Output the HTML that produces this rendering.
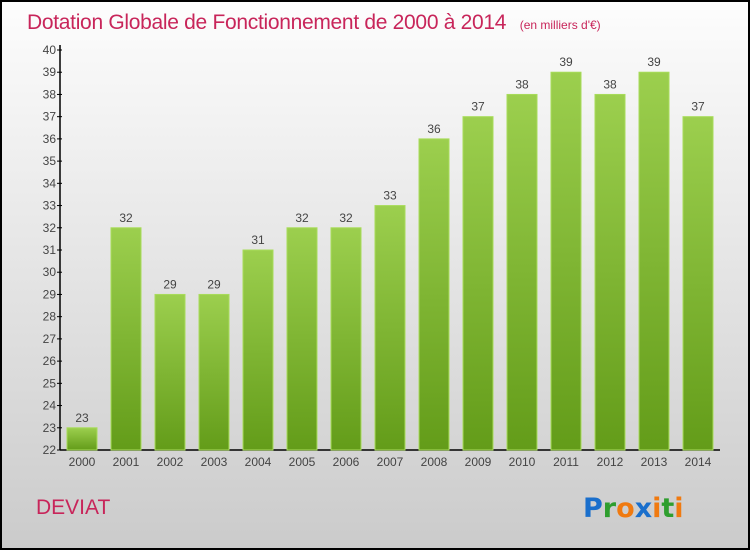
<!DOCTYPE html>
<html><head><meta charset="utf-8"><style>
body{margin:0;width:750px;height:550px;overflow:hidden}
svg{display:block;font-family:"Liberation Sans",sans-serif}
</style></head><body>
<svg id="c" width="750" height="550">
<defs>
<linearGradient id="bg" x1="0" y1="0" x2="0" y2="1"><stop offset="0" stop-color="#fdfdfd"/><stop offset="1" stop-color="#cbcbcb"/></linearGradient>
<linearGradient id="bar" x1="0" y1="0" x2="0" y2="1"><stop offset="0" stop-color="#9ccf4e"/><stop offset="1" stop-color="#639c19"/></linearGradient>
</defs>
<rect x="1" y="1" width="748" height="548" fill="url(#bg)" stroke="#000" stroke-width="2"/>
<text x="27" y="29" font-size="21" letter-spacing="-0.3" fill="#c8255a">Dotation Globale de Fonctionnement de 2000 à 2014 <tspan font-size="12" dx="8" letter-spacing="0">(en milliers d'€)</tspan></text>
<text x="36" y="514" font-size="21" fill="#c8255a">DEVIAT</text>
<g font-size="27" font-weight="bold" font-family="'DejaVu Sans',sans-serif">
<text x="583" y="517"><tspan fill="#1a6fcc">P</tspan><tspan fill="#2e9e2e">r</tspan><tspan fill="#f07a10">o</tspan><tspan fill="#1a6fcc">x</tspan><tspan fill="#f07a10">i</tspan><tspan fill="#2e9e2e">t</tspan><tspan fill="#f07a10">i</tspan></text>
</g>
<g id="axes"></g><g id="bars"></g>
</svg>
<script>
const categories=["2000","2001","2002","2003","2004","2005","2006","2007","2008","2009","2010","2011","2012","2013","2014"];
const values=[23,32,29,29,31,32,32,33,36,37,38,39,38,39,37];
const yTicks=[22,23,24,25,26,27,28,29,30,31,32,33,34,35,36,37,38,39,40];
const NS="http://www.w3.org/2000/svg";
const x0=60,x1=720,yBase=450,yTop=50,yMin=22,yMax=40;
const y=v=>yBase-(v-yMin)/(yMax-yMin)*(yBase-yTop);
const xc=i=>82+i*44;
function mk(t,a,p){const e=document.createElementNS(NS,t);for(const k in a)e.setAttribute(k,a[k]);p.appendChild(e);return e;}
const ax=document.getElementById('axes'),bs=document.getElementById('bars');
let l=mk('line',{x1:x0,y1:yTop-5,x2:x0,y2:yBase,stroke:'#000','stroke-width':1.5},ax);


l=mk('line',{x1:x0,y1:yBase,x2:x1,y2:yBase,stroke:'#000','stroke-width':1.5},ax);


yTicks.forEach(v=>{
 const t=mk('line',{x1:x0-3,y1:y(v),x2:x0+2,y2:y(v),stroke:'#000'},ax);
 
 
 const tx=mk('text',{x:x0-4,y:y(v)+4,'font-size':12,fill:'#444','text-anchor':'end'},ax);
 tx.textContent=v;
 
 
});
categories.forEach((c,i)=>{
 const v=values[i];
 const r=mk('rect',{x:xc(i)-15,y:y(v),width:30,height:yBase-y(v),fill:'url(#bar)',stroke:'#a8dc5a','stroke-width':1},bs);
 
 
 const vt=mk('text',{x:xc(i),y:y(v)-6,'font-size':12,fill:'#444','text-anchor':'middle'},bs);
 vt.textContent=v;
 
 
 const xt=mk('text',{x:xc(i),y:466,'font-size':12,fill:'#444','text-anchor':'middle'},bs);
 xt.textContent=c;
 
 
});
</script>
</body></html>
